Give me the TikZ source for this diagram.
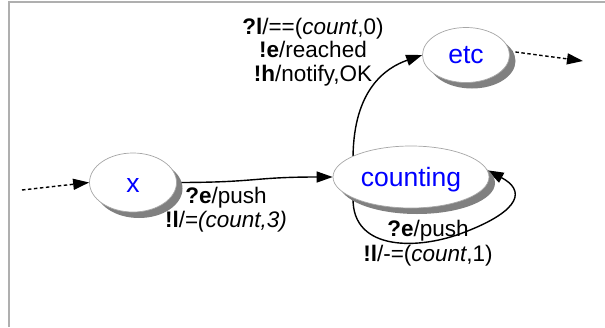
\documentclass[tikz,border=0pt]{standalone}
\usepackage{fontspec}
\setmainfont{Liberation Sans}
\usetikzlibrary{shapes.geometric,shadows,arrows.meta}
\pgfdeclarelayer{background}
\pgfsetlayers{background,main}
\definecolor{statetext}{RGB}{0,0,255}
\definecolor{framegray}{RGB}{175,175,175}
\newcommand{\lowtext}[1]{\raisebox{-3pt}[\height][\depth]{#1}}
\tikzset{
  state/.style={ellipse, draw=black!35, line width=0.7pt, fill=white, inner sep=0pt,
    text=statetext, font=\fontsize{26.5}{28}\selectfont,
    drop shadow={shadow xshift=6pt, shadow yshift=-6pt, fill=black!50, opacity=1}},
  trans/.style={line width=1.4pt, -{Triangle[length=16pt,width=11pt]}},
  dtrans/.style={trans, dash pattern=on 3.5pt off 2.5pt},
  lbl/.style={align=center, inner sep=0pt, font=\fontsize{22.5}{23.5}\selectfont},
}
\begin{document}
\begin{tikzpicture}[x=1pt,y=-1pt]
\useasboundingbox (0,0) rectangle (605,327);
\draw[framegray, line width=1.2pt] (9,327) -- (9,2) -- (605,2);

\node[state, minimum width=87pt, minimum height=59pt] (x) at (133,182.5) {\lowtext{x}};
\node[state, minimum width=156pt, minimum height=62pt] (counting) at (411,177) {\lowtext{counting}};
\node[state, minimum width=87pt, minimum height=55pt] (etc) at (466,55) {etc};

\coordinate (in) at (22,190);
\coordinate (out) at (583,61);

\begin{pgfonlayer}{background}
\draw[dtrans] (in) -- (x.180);
\draw[trans] (x.east) .. controls +(80,0) and +(-80,0) .. (counting.west);
\draw[trans] (counting.160) .. controls (354,90) and (385,68) .. (etc.west);
\draw[trans] (counting.200) .. controls (352,252) and (420,250) .. (465,232)
   .. controls (522,210) and (525,190) .. (counting.5);
\draw[dtrans] (etc.5) -- (out);
\end{pgfonlayer}

\node[lbl] (l1) at (313,52) {\textbf{?l}/==(\textit{count},0)\\ \textbf{!e}/reached\\ \textbf{!h}/notify,OK};
\node[lbl, font=\fontsize{22.5}{24}\selectfont] (l2) at (226,210) {\textbf{?e}/push\\ \textbf{!l}/=\textit{(count,3)}};
\node[lbl, font=\fontsize{22.5}{25}\selectfont] (l3) at (428,243) {\textbf{?e}/push\\ \textbf{!l}/-=(\textit{count},1)};
\end{tikzpicture}
\end{document}
